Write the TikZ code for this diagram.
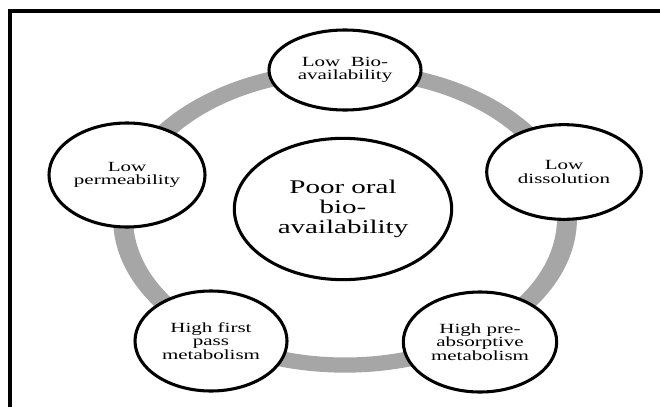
\documentclass[tikz,border=0pt]{standalone}
\usepackage{fontspec}
\newfontfamily\wideserif{Liberation Serif}[FakeStretch=1.5]
\usepackage{tikz}
\usetikzlibrary{shapes.geometric}

\begin{document}
\begin{tikzpicture}[
  x=0.75pt, y=-0.75pt,
  cause/.style={draw, ellipse, line width=2.3pt, fill=white, align=center, inner sep=0pt,
    font=\wideserif\fontsize{10.5}{10.3}\selectfont},
  core/.style={cause, font=\wideserif\fontsize{14.5}{15}\selectfont},
]
\useasboundingbox (0,0) rectangle (660,407);
% frame, cut at the right and bottom
\draw[line width=2.3pt] (10,407) -- (10,11) -- (660,11);
% grey ring behind the causes
\fill[black!35, even odd rule] (345,218) ellipse [x radius=174pt, y radius=116pt]
  (345,218) ellipse [x radius=159pt, y radius=104.6pt];

\node[core, minimum width=163pt, minimum height=106pt] (poor) at (343,209) {Poor oral\\bio-\\availability};
\node[cause, minimum width=114pt, minimum height=60pt] (lowbio) at (345,70) {Low\ \ Bio-\\availability};
\node[cause, minimum width=116pt, minimum height=71pt] (lowdiss) at (564,172) {Low\\dissolution};
\node[cause, minimum width=115pt, minimum height=75pt] (preabs) at (480,342) {High pre-\\absorptive\\metabolism};
\node[cause, minimum width=114pt, minimum height=75pt] (firstpass) at (211,341) {High first\\pass\\metabolism};
\node[cause, minimum width=117pt, minimum height=78pt] (lowperm) at (127,175) {Low\\permeability};
\end{tikzpicture}
\end{document}
